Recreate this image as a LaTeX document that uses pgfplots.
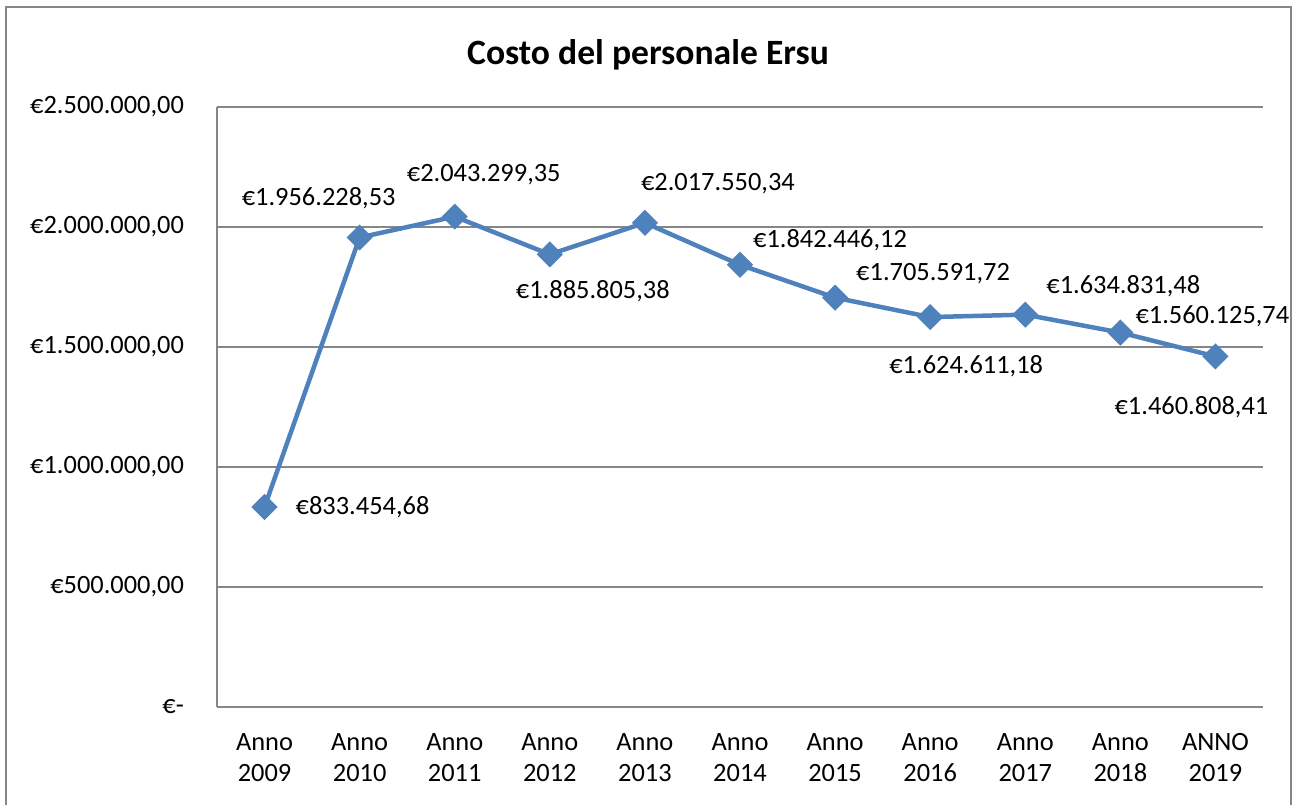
\documentclass[border=0pt]{standalone}
\usepackage{fontspec}
\setmainfont{Carlito}
\usepackage{pgfplots}
\pgfplotsset{compat=1.18}
\usepackage{pgfplotstable}

\definecolor{xlblue}{HTML}{4F81BD}
\definecolor{xlgray}{HTML}{868686}

% x, value, label, label offsets (pt)
\pgfplotstableread{
x y lab dx dy
0 833454.68 833.454,68 49 0
1 1956228.53 1.956.228,53 -20.5 19.5
2 2043299.35 2.043.299,35 14.5 21
3 1885805.38 1.885.805,38 21.5 -18.5
4 2017550.34 2.017.550,34 36.5 19.5
5 1842446.12 1.842.446,12 45 12.5
6 1705591.72 1.705.591,72 49 12
7 1624611.18 1.624.611,18 18 -24.5
8 1634831.48 1.634.831,48 49 14
9 1560125.74 1.560.125,74 46 8
10 1460808.41 1.460.808,41 -12 -25.5
}\costo

\begin{document}
\begin{tikzpicture}
\begin{axis}[
    at={(0pt,0pt)}, anchor=south west,
    scale only axis,
    width=523pt, height=300pt,
    xmin=-0.5, xmax=10.5,
    ymin=0, ymax=2500000,
    xtick=data,
    xticklabels={{Anno\\2009},{Anno\\2010},{Anno\\2011},{Anno\\2012},{Anno\\2013},{Anno\\2014},{Anno\\2015},{Anno\\2016},{Anno\\2017},{Anno\\2018},{ANNO\\2019}},
    ytick={0,500000,1000000,1500000,2000000,2500000},
    yticklabels={€-,{€500.000,00},{€1.000.000,00},{€1.500.000,00},{€2.000.000,00},{€2.500.000,00}},
    scaled y ticks=false,
    major tick length=0pt,
    axis x line*=bottom, axis y line*=left,
    axis line style={xlgray, line width=1pt, -},
    ymajorgrids, grid style={xlgray, line width=1pt},
    ticklabel style={font=\fontsize{13.2}{15.5}\selectfont},
    xticklabel style={align=center, yshift=-9.5pt},
    yticklabel style={xshift=-13pt},
    clip=false,
]
\addplot[xlblue, line width=2.25pt, mark=square*, mark size=3.5pt,
    mark options={rotate=45, solid},
    nodes near coords={€\pgfplotspointmeta},
    point meta=explicit symbolic,
    visualization depends on={\thisrow{dx} \as \dx},
    visualization depends on={\thisrow{dy} \as \dy},
    every node near coord/.append style={anchor=center, text=black,
        font=\fontsize{13.2}{15.5}\selectfont, xshift=\dx pt, yshift=\dy pt},
] table[x=x, y=y, meta=lab] {\costo};
\end{axis}
\node[font=\fontsize{17.8}{20}\selectfont\bfseries] at (215.5pt,326pt) {Costo del personale Ersu};
\draw[xlgray, line width=1pt] (-105.25pt,-60pt) -- (-105.25pt,349.75pt) -- (537pt,349.75pt) -- (537pt,-60pt);
\pgfresetboundingbox
\useasboundingbox (-108.5pt,-48.5pt) rectangle (539pt,353.5pt);
\end{tikzpicture}
\end{document}
